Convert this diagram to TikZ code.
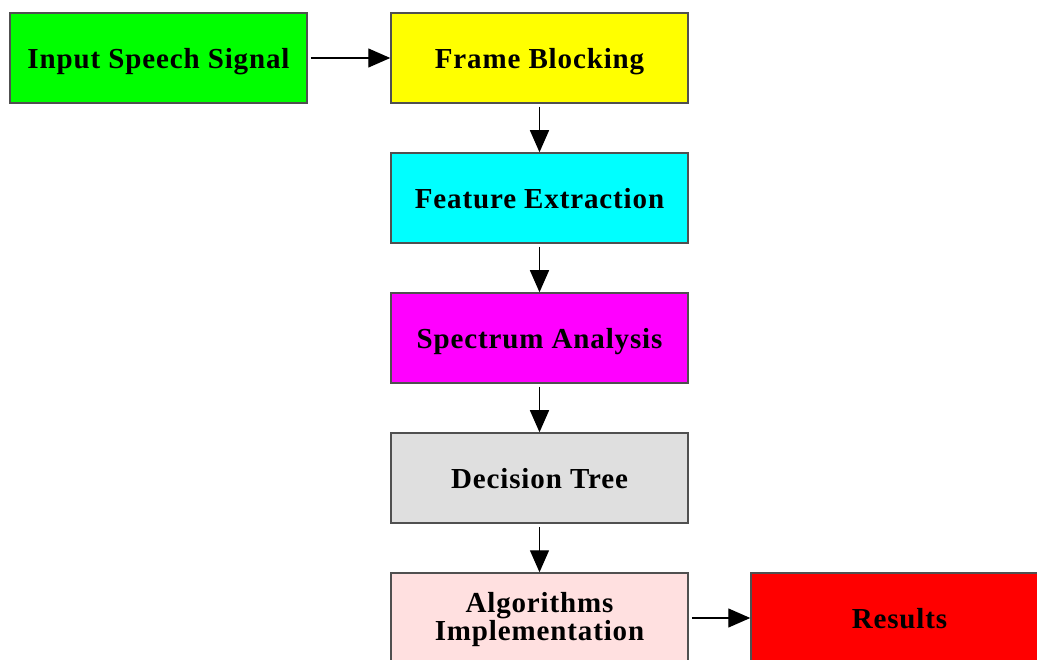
\documentclass[tikz,border=0pt]{standalone}
\usepackage{fontspec}
\setmainfont{Liberation Serif}[LetterSpace=3]
\usetikzlibrary{arrows.meta}
\definecolor{boxline}{HTML}{505050}
\definecolor{cgreen}{HTML}{00FF00}
\definecolor{cyellow}{HTML}{FFFF00}
\definecolor{ccyan}{HTML}{00FFFF}
\definecolor{cmagenta}{HTML}{FF00FF}
\definecolor{cgray}{HTML}{DFDFDF}
\definecolor{crose}{HTML}{FFE0E0}
\definecolor{cred}{HTML}{FF0000}
\newcommand{\oneline}[1]{\raisebox{-10.5pt}[0pt][0pt]{#1}}
\newcommand{\twolines}[2]{\raisebox{-9pt}[0pt][0pt]{\begin{tabular}{@{}c@{}}#1\\#2\end{tabular}}}
\tikzset{
  blk/.style={draw=boxline, line width=1.5pt, minimum width=297pt, minimum height=90pt,
    inner sep=0pt, align=center, font=\fontsize{29}{28}\selectfont\bfseries},
  flow/.style={draw=black, line width=1.3pt, -{Triangle[length=22pt,width=19pt]}, shorten <=3pt}
}
\begin{document}
\begin{tikzpicture}[x=1pt,y=1pt]
\useasboundingbox (0,0) rectangle (1037,-660);
\clip (0,0) rectangle (1037,-660);
\node[blk, fill=cgreen] (inp) at (158.5,-58) {\oneline{Input Speech Signal}};
\node[blk, fill=cyellow] (frame) at (539.5,-58) {\oneline{Frame Blocking}};
\node[blk, fill=ccyan] (feat) at (539.5,-198) {\oneline{Feature Extraction}};
\node[blk, fill=cmagenta] (spec) at (539.5,-338) {\oneline{Spectrum Analysis}};
\node[blk, fill=cgray] (dec) at (539.5,-478) {\oneline{Decision Tree}};
\node[blk, fill=crose] (alg) at (539.5,-618) {\twolines{Algorithms}{Implementation}};
\node[blk, fill=cred] (res) at (899.5,-618) {\oneline{Results}};
\draw[flow] (inp) -- (frame);
\draw[flow] (frame) -- (feat);
\draw[flow] (feat) -- (spec);
\draw[flow] (spec) -- (dec);
\draw[flow] (dec) -- (alg);
\draw[flow] (alg) -- (res);
\end{tikzpicture}
\end{document}
